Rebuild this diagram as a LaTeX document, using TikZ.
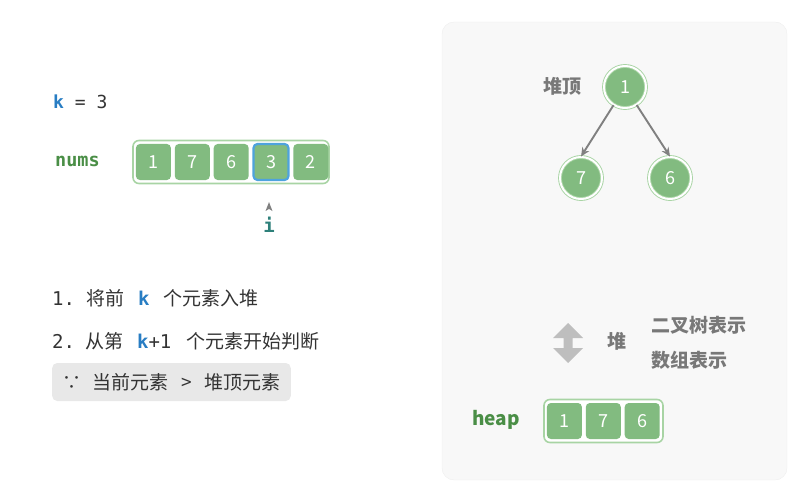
\documentclass[tikz,border=0pt]{standalone}
\usepackage{fontspec}
\setmainfont{Noto Sans CJK SC}
\newfontfamily\monofont{DejaVu Sans Mono}
\usepackage{xcolor}
\usetikzlibrary{positioning}
\usetikzlibrary{arrows.meta}
\definecolor{cellgreen}{RGB}{130,187,128}
\definecolor{boxgreen}{RGB}{168,212,164}
\definecolor{textgreen}{RGB}{74,142,70}
\definecolor{kblue}{RGB}{40,125,195}
\definecolor{hlblue}{RGB}{78,163,222}
\definecolor{iteal}{RGB}{46,128,122}
\definecolor{darktext}{RGB}{51,51,51}
\definecolor{labelgray}{RGB}{120,120,120}
\definecolor{panelbg}{RGB}{248,248,248}
\definecolor{panelline}{RGB}{238,238,238}
\definecolor{notegray}{RGB}{232,232,232}
\definecolor{arrowgray}{RGB}{190,190,190}

\tikzset{
  cell/.style={rectangle, rounded corners=4pt, fill=cellgreen, minimum width=35pt,
    minimum height=36pt, inner sep=0pt, text=white, font=\fontsize{18}{18}\selectfont},
  arrbox/.style={rectangle, rounded corners=6pt, draw=boxgreen, line width=1.6pt,
    fill=white, inner sep=0pt, minimum height=43pt},
  hnode/.style={circle, fill=cellgreen, draw=boxgreen, double=white, double distance=2pt,
    line width=0.9pt, minimum size=42pt, inner sep=0pt, text=white,
    font=\fontsize{18}{18}\selectfont},
  tarrow/.style={-{Stealth[length=9pt,width=8pt]}, draw=gray, line width=1.9pt},
  codetxt/.style={inner sep=0pt, anchor=west, text=darktext, font=\fontsize{19}{19}\selectfont},
  graylbl/.style={inner sep=0pt, text=labelgray, font=\fontsize{19}{19}\selectfont\bfseries},
}

\begin{document}
\begin{tikzpicture}[x=1pt, y=-1pt, node distance=3.5pt and 3.5pt]
\useasboundingbox (0,0) rectangle (810,481);
\draw[panelline, fill=panelbg, rounded corners=12pt] (442,22) rectangle (787,480);
%%%%%%%%%%%%%%%%%%%%%%%%%%%%%%%%%%%%%
\node[codetxt, font=\fontsize{18}{18}\selectfont] (kval) at (53,102) {\monofont\textcolor{kblue}{\bfseries k} = 3};
\node[codetxt, text=textgreen, font=\fontsize{18.5}{18}\selectfont] (numslbl) at (55,161) {\monofont\bfseries nums};
\node[arrbox, minimum width=196pt] (nums) at (231,162) {};
\node[cell, right=3.5pt of nums.west, anchor=west] (n1) {1};
\node[cell, right=of n1] (n2) {7};
\node[cell, right=of n2] (n3) {6};
\node[cell, right=of n3, draw=hlblue, line width=2.2pt] (n4) {3};
\node[cell, right=of n4] (n5) {2};
\node[inner sep=0pt, text=iteal, font=\fontsize{19}{19}\selectfont\monofont\bfseries] (i) at (269,225) {i};
\coordinate[above=15pt of i] (ptr);
\fill[gray] (ptr) -- ++(3.5,9) -- ++(-3.5,-2.2) -- ++(-3.5,2.2) -- cycle;
%%%%%%%%%%%%%%%%%%%%%%%%%%%%%%%%%%%%%
\node[codetxt] (step1) at (52,298) {{\monofont 1.}\hspace{11pt}将前\hspace{14pt}{\monofont\bfseries\color{kblue}k}\hspace{14pt}个元素入堆};
\node[codetxt] (step2) at (52,341) {{\monofont 2.}\hspace{10pt}从第\hspace{14pt}{\monofont\bfseries\color{kblue}k}{\monofont +1}\hspace{15pt}个元素开始判断};
\node[codetxt, fill=notegray, rounded corners=5pt, inner xsep=10pt, minimum height=38pt] (note) at (52,382) {∵\hspace{11pt}当前元素\hspace{13pt}>\hspace{13pt}堆顶元素};
%%%%%%%%%%%%%%%%%%%%%%%%%%%%%%%%%%%%%
\node[hnode] (r) at (625,87) {1};
\node[hnode] (c7) at (581,178) {7};
\node[hnode] (c6) at (670,178) {6};
\node[graylbl] (top) at (562,86) {堆顶};
\draw[tarrow] (r) -- (c7.north);
\draw[tarrow] (r) -- (c6.north);
%%%%%%%%%%%%%%%%%%%%%%%%%%%%%%%%%%%%%
\fill[arrowgray] (568,323) -- (583,338) -- (572.5,338) -- (572.5,348) -- (583,348)
  -- (568,363) -- (553,348) -- (563.5,348) -- (563.5,338) -- (553,338) -- cycle;
\node[graylbl] (heapw) at (617,341) {堆};
\node[graylbl, anchor=west] (treew) at (651,325) {二叉树表示};
\node[graylbl, anchor=west] (arrw) at (651,360) {数组表示};
%%%%%%%%%%%%%%%%%%%%%%%%%%%%%%%%%%%%%
\node[codetxt, text=textgreen, font=\fontsize{19}{19}\selectfont\bfseries] (heaplbl) at (472,420) {heap};
\node[arrbox, minimum width=119pt] (heap) at (603.5,421) {};
\node[cell, right=3.5pt of heap.west, anchor=west] (h1) {1};
\node[cell, right=of h1] (h2) {7};
\node[cell, right=of h2] (h3) {6};
\end{tikzpicture}
\end{document}
